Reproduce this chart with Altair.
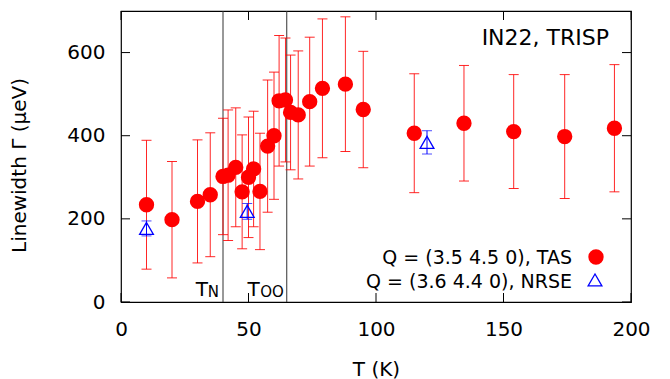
import altair as alt
import pandas as pd

# TAS data, Q = (3.5 4.5 0)
T_tas = [10, 20, 30, 35, 40, 42, 45, 47.5, 50, 52, 54.5, 57.5, 60, 62, 64.5, 66.5,
         69.5, 74, 79, 88, 95, 115, 134.5, 154, 174, 193.5]
G_tas = [234, 198, 242, 258, 302, 305, 324, 265, 300, 320, 266, 375, 400, 484, 486, 456,
         450, 482, 514, 524, 463, 406, 430, 410, 398, 418]
E_tas = [155, 140, 148, 149, 140, 157, 143, 137, 145, 139, 140, 159, 153, 157, 149, 138,
         154, 155, 167, 162, 140, 143, 139, 137, 149, 153]

# NRSE data, Q = (3.6 4.4 0)
T_nrse = [10, 49.5, 120]
G_nrse = [177, 218, 384]
E_nrse = [18, 19, 28]

x_ticks = [0, 50, 100, 150, 200]
y_ticks = [0, 200, 400, 600]
T_N = 40
T_OO = 65

tas = pd.DataFrame({"T": T_tas, "G": G_tas, "E": E_tas})
tas["lo"] = tas["G"] - tas["E"]
tas["hi"] = tas["G"] + tas["E"]
nrse = pd.DataFrame({"T": T_nrse, "G": G_nrse, "E": E_nrse})
nrse["lo"] = nrse["G"] - nrse["E"]
nrse["hi"] = nrse["G"] + nrse["E"]
xt = pd.DataFrame({"T": x_ticks})
yt = pd.DataFrame({"G": y_ticks})
tr = pd.DataFrame({"T": [T_N, T_OO]})

FONT = "DejaVu Sans"
W, H = 510, 291
xs = alt.Scale(domain=[0, 200], nice=False, zero=False)
ys = alt.Scale(domain=[0, 700], nice=False, zero=False)
xaxis = alt.Axis(values=x_ticks, title="T (K)", ticks=False, domain=False, grid=False,
                 labelFont=FONT, labelFontSize=20, labelColor="black", labelPadding=17,
                 titleFont=FONT, titleFontSize=20, titleColor="black",
                 titleFontWeight="normal", titlePadding=20, labelFlush=False)
yaxis = alt.Axis(values=y_ticks, title="Linewidth Γ (µeV)", ticks=False, domain=False,
                 grid=False, labelFont=FONT, labelFontSize=20, labelColor="black",
                 labelPadding=16, titleFont=FONT, titleFontSize=20, titleColor="black",
                 titleFontWeight="normal", titlePadding=37, titleY=154)


def X(f):
    return alt.X(f, type="quantitative", scale=xs, axis=xaxis)


def Y(f):
    return alt.Y(f, type="quantitative", scale=ys, axis=yaxis)


ERR = "#ff0000"

tas_bars = alt.Chart(tas).mark_rule(color=ERR, strokeWidth=1, opacity=0.85).encode(
    x=X("T"), y=Y("lo"), y2="hi")
tas_caps_lo = alt.Chart(tas).mark_tick(color=ERR, orient="horizontal", size=10,
                                       thickness=1, opacity=0.85).encode(x=X("T"), y=Y("lo"))
tas_caps_hi = alt.Chart(tas).mark_tick(color=ERR, orient="horizontal", size=10,
                                       thickness=1, opacity=0.85).encode(x=X("T"), y=Y("hi"))
tas_pts = alt.Chart(tas).mark_point(shape="circle", filled=True, color="#ff0000",
                                    size=235, opacity=1).encode(x=X("T"), y=Y("G"))

BL = "#0000ff"
nr_bars = alt.Chart(nrse).mark_rule(color=BL, strokeWidth=1).encode(
    x=X("T"), y=Y("lo"), y2="hi")
nr_caps_lo = alt.Chart(nrse).mark_tick(color=BL, orient="horizontal", size=10,
                                       thickness=1).encode(x=X("T"), y=Y("lo"))
nr_caps_hi = alt.Chart(nrse).mark_tick(color=BL, orient="horizontal", size=10,
                                       thickness=1).encode(x=X("T"), y=Y("hi"))
nr_pts = alt.Chart(nrse).mark_point(shape="triangle-up", filled=False, color=BL,
                                    size=190, strokeWidth=1.3, opacity=1).encode(
    x=X("T"), y=Y("G"))

vlines = alt.Chart(tr).mark_rule(color="#333333", strokeWidth=1).encode(x=X("T"))


def trans_label(tval, sub, subdx, maindx):
    d = pd.DataFrame({"T": [tval]})
    s = alt.Chart(d).mark_text(font=FONT, fontSize=15, align="right",
                               baseline="alphabetic", dx=subdx, color="black",
                               text=sub).encode(x=X("T"), y=alt.value(286))
    m = alt.Chart(d).mark_text(font=FONT, fontSize=20, align="right",
                               baseline="alphabetic", dx=maindx, color="black",
                               text="T").encode(x=X("T"), y=alt.value(285))
    return [s, m]


lab_N = trans_label(T_N, "N", -4, -15)
lab_OO = trans_label(T_OO, "OO", -3, -27)

# inward ticks on all four sides
left_t = alt.Chart(yt).mark_rule(color="black").encode(
    y=Y("G"), x=alt.value(0), x2=alt.value(9))
right_t = alt.Chart(yt).mark_rule(color="black").encode(
    y=Y("G"), x=alt.value(W - 9), x2=alt.value(W))
bot_t = alt.Chart(xt).mark_rule(color="black").encode(
    x=X("T"), y=alt.value(H - 9), y2=alt.value(H))
top_t = alt.Chart(xt).mark_rule(color="black").encode(
    x=X("T"), y=alt.value(0), y2=alt.value(9))

label = alt.Chart().mark_text(font=FONT, fontSize=22, align="right",
                              baseline="alphabetic", color="black",
                              text="IN22, TRISP").encode(x=alt.value(488), y=alt.value(34))

leg1_t = alt.Chart().mark_text(font=FONT, fontSize=19, align="right",
                               baseline="alphabetic", color="black",
                               text="Q = (3.5 4.5 0), TAS").encode(
    x=alt.value(451), y=alt.value(253))
leg2_t = alt.Chart().mark_text(font=FONT, fontSize=19, align="right",
                               baseline="alphabetic", color="black",
                               text="Q = (3.6 4.4 0), NRSE").encode(
    x=alt.value(451), y=alt.value(277))
leg1_p = alt.Chart().mark_point(shape="circle", filled=True, color="#ff0000", size=235,
                                opacity=1).encode(x=alt.value(475), y=alt.value(246))
leg2_p = alt.Chart().mark_point(shape="triangle-up", filled=False, color=BL, size=190,
                                strokeWidth=1.3, opacity=1).encode(
    x=alt.value(474), y=alt.value(269))

chart = alt.layer(
    vlines, tas_bars, tas_caps_lo, tas_caps_hi, tas_pts,
    nr_bars, nr_caps_lo, nr_caps_hi, nr_pts,
    *lab_N, *lab_OO, left_t, right_t, bot_t, top_t,
    label, leg1_t, leg2_t, leg1_p, leg2_p,
).properties(
    width=W, height=H,
    padding={"left": 121, "top": 11, "right": 39, "bottom": 77},
    autosize=alt.AutoSizeParams(type="none"),
    background="white",
).configure_view(stroke="black", strokeWidth=1.2)

chart.save("out.html", embed_options={"renderer": "svg", "actions": False})
